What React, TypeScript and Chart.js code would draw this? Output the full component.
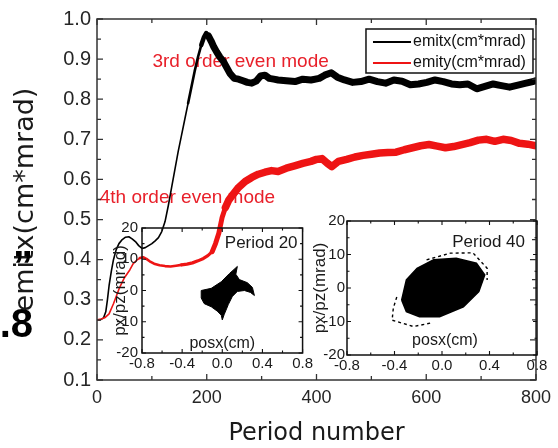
import React, { useEffect, useRef } from 'react';
import { Chart, registerables } from 'chart.js';
Chart.register(...registerables);

// ---- main chart data ----
const EMITX_X = [0, 6, 12, 16, 19, 22, 26, 30, 35, 40, 46, 52, 58, 64, 70, 76, 82, 88, 94, 100, 106, 112, 118, 124, 130, 136, 142, 148, 154, 160, 166, 172, 178, 184, 190, 195, 199, 203, 208, 213, 218, 224, 230, 236, 242, 250, 258, 266, 274, 282, 290, 298, 306, 314, 322, 330, 345, 361, 375, 390, 405, 415, 427, 438, 451, 466, 481, 496, 511, 526, 541, 556, 571, 586, 601, 616, 631, 646, 661, 676, 692, 707, 722, 737, 752, 767, 782, 794, 800];
const EMITX_Y = [0.25, 0.25, 0.255, 0.27, 0.30, 0.335, 0.37, 0.40, 0.425, 0.44, 0.45, 0.456, 0.457, 0.452, 0.445, 0.435, 0.428, 0.43, 0.435, 0.44, 0.447, 0.455, 0.47, 0.495, 0.535, 0.58, 0.625, 0.67, 0.71, 0.75, 0.79, 0.83, 0.87, 0.905, 0.935, 0.955, 0.965, 0.958, 0.945, 0.93, 0.918, 0.905, 0.895, 0.88, 0.865, 0.852, 0.85, 0.846, 0.842, 0.84, 0.845, 0.858, 0.86, 0.852, 0.85, 0.848, 0.846, 0.844, 0.85, 0.848, 0.852, 0.86, 0.866, 0.855, 0.848, 0.842, 0.844, 0.85, 0.844, 0.84, 0.848, 0.845, 0.836, 0.838, 0.842, 0.848, 0.844, 0.838, 0.836, 0.838, 0.826, 0.832, 0.838, 0.834, 0.83, 0.835, 0.84, 0.844, 0.846];
const EMITY_X = [0, 8, 15, 22, 30, 41, 50, 60, 66, 72, 78, 84, 90, 96, 104, 114, 124, 134, 144, 154, 164, 174, 184, 194, 202, 210, 216, 222, 228, 234, 240, 248, 258, 270, 282, 294, 306, 318, 330, 345, 360, 375, 390, 400, 410, 420, 428, 440, 455, 470, 485, 500, 515, 530, 545, 560, 575, 590, 605, 620, 635, 650, 665, 680, 695, 710, 725, 740, 755, 770, 785, 800];
const EMITY_Y = [0.25, 0.252, 0.256, 0.265, 0.29, 0.33, 0.355, 0.375, 0.39, 0.398, 0.404, 0.406, 0.402, 0.396, 0.39, 0.386, 0.384, 0.383, 0.385, 0.387, 0.389, 0.392, 0.397, 0.403, 0.41, 0.42, 0.44, 0.466, 0.505, 0.53, 0.548, 0.563, 0.58, 0.595, 0.605, 0.613, 0.618, 0.622, 0.62, 0.628, 0.634, 0.64, 0.645, 0.65, 0.652, 0.64, 0.632, 0.645, 0.65, 0.656, 0.66, 0.663, 0.666, 0.667, 0.668, 0.674, 0.679, 0.684, 0.687, 0.683, 0.679, 0.682, 0.687, 0.692, 0.698, 0.7, 0.695, 0.7, 0.697, 0.69, 0.688, 0.684];
const SERIES_NAMES = ['emitx(cm*mrad)', 'emity(cm*mrad)'];
const MAIN_X_MINOR = [100, 300, 500, 700];
const MAIN_Y_MINOR = [0.15, 0.25, 0.35, 0.45, 0.55, 0.65, 0.75, 0.85, 0.95];
const NOTES = ['3rd order even mode', '4th order even mode'];
const NOTE_X = [101, 5];
const NOTE_Y = [0.893, 0.554];

// ---- inset data (phase space) ----
const P20_X = [-0.21, -0.11, -0.01, 0.07, 0.15, 0.135, 0.17, 0.25, 0.30, 0.32, 0.28, 0.22, 0.15, 0.10, 0.06, 0.02, 0.0, -0.01, -0.05, -0.11, -0.18, -0.21, -0.21];
const P20_Y = [0.0, 0.7, 2.8, 5.4, 7.7, 5.2, 3.5, 2.5, 1.0, -1.6, -0.6, 0.0, -0.3, -1.9, -4.5, -7.6, -9.4, -7.9, -6.6, -5.2, -4.2, -2.4, 0.0];
const P40_X = [-0.34, -0.30, -0.21, -0.07, 0.12, 0.29, 0.36, 0.31, 0.18, -0.02, -0.19, -0.30, -0.34];
const P40_Y = [-3.6, 2.4, 5.9, 8.4, 8.9, 7.4, 3.9, -1.1, -5.6, -8.6, -8.6, -7.1, -3.6];
const HALO_X = [-0.10, -0.24, -0.42, -0.41, -0.38, 0, -0.13, 0.07, 0.26, 0.38, 0.38];
const HALO_Y = [-10.5, -11.5, -9.6, -6.0, -2.6, null, 8.4, 10.4, 10.5, 5.9, 2.4];
const INSET_X_MINOR = [-0.6, -0.2, 0.2, 0.6];
const INSET_Y_MINOR = [-15, -5, 5, 15];

const RED = '#ee1414';
const NOTE_RED = '#e8202a';
const SANS = '"Liberation Sans", Arial, sans-serif';
const WIDE = '"DejaVu Sans", sans-serif';

const pts = (xs: number[], ys: (number | null)[]) => xs.map((x, i) => ({ x, y: ys[i] }));
const blackW = (x: number) => (x < 165 ? 1.6 : x < 190 ? 2.6 : x < 203 ? 4.5 : 7);
const redW = (x: number) => (x < 78 ? 1.6 : x < 150 ? 2.6 : x < 205 ? 3.2 : x < 232 ? 5 : 7.5);

const framePlugin = {
  id: 'frame',
  afterDatasetsDraw(chart: any, _a: any, o: any) {
    const { ctx, chartArea: a, scales } = chart;
    const xs = scales.x, ys = scales.y;
    ctx.save();
    ctx.strokeStyle = o.color;
    ctx.lineWidth = o.width;
    ctx.strokeRect(a.left, a.top, a.right - a.left, a.bottom - a.top);
    ctx.lineWidth = o.tickWidth;
    const drawX = (v: number, len: number) => {
      const p = xs.getPixelForValue(v);
      ctx.beginPath();
      ctx.moveTo(p, a.bottom); ctx.lineTo(p, a.bottom - len);
      ctx.moveTo(p, a.top); ctx.lineTo(p, a.top + len);
      ctx.stroke();
    };
    const drawY = (v: number, len: number) => {
      const p = ys.getPixelForValue(v);
      ctx.beginPath();
      ctx.moveTo(a.left, p); ctx.lineTo(a.left + len, p);
      ctx.moveTo(a.right, p); ctx.lineTo(a.right - len, p);
      ctx.stroke();
    };
    xs.ticks.forEach((t: any) => drawX(t.value, o.major));
    (o.xMinor || []).forEach((v: number) => drawX(v, o.minor));
    ys.ticks.forEach((t: any) => drawY(t.value, o.major));
    (o.yMinor || []).forEach((v: number) => drawY(v, o.minor));
    ctx.restore();
  },
};

const notesPlugin = {
  id: 'notes',
  beforeDatasetsDraw(chart: any) {
    const { ctx, scales } = chart;
    ctx.save();
    ctx.fillStyle = NOTE_RED;
    ctx.font = `19px ${SANS}`;
    ctx.textAlign = 'left';
    ctx.textBaseline = 'middle';
    NOTES.forEach((t, i) => {
      ctx.fillText(t, scales.x.getPixelForValue(NOTE_X[i]), scales.y.getPixelForValue(NOTE_Y[i]));
    });
    ctx.restore();
  },
};

const legendPlugin = {
  id: 'boxLegend',
  afterDraw(chart: any) {
    const { ctx, chartArea: a } = chart;
    const x1 = a.right - 170, y1 = a.top + 10, w = 167, h = 44;
    ctx.save();
    ctx.fillStyle = '#fff';
    ctx.fillRect(x1, y1, w, h);
    ctx.strokeStyle = '#111';
    ctx.lineWidth = 1.5;
    ctx.strokeRect(x1, y1, w, h);
    const cols = ['#000', RED];
    [13, 34].forEach((dy, i) => {
      ctx.strokeStyle = cols[i];
      ctx.lineWidth = 2.2;
      ctx.beginPath();
      ctx.moveTo(x1 + 7, y1 + dy);
      ctx.lineTo(x1 + 45, y1 + dy);
      ctx.stroke();
      ctx.fillStyle = '#111';
      ctx.font = `16px ${SANS}`;
      ctx.textAlign = 'left';
      ctx.textBaseline = 'middle';
      ctx.fillText(SERIES_NAMES[i], x1 + 47, y1 + dy);
    });
    // stray bold glyphs at the left edge of the figure
    ctx.fillStyle = '#000';
    ctx.font = `bold 40px ${SANS}`;
    ctx.textAlign = 'left';
    ctx.textBaseline = 'alphabetic';
    ctx.fillText('\u201D', 13, 279);
    ctx.textAlign = 'right';
    ctx.fillText('.8', 33, 337);
    ctx.restore();
  },
};

const insetTextPlugin = {
  id: 'insetText',
  afterDraw(chart: any, _a: any, o: any) {
    const { ctx, chartArea: a } = chart;
    ctx.save();
    ctx.fillStyle = '#1a1a1a';
    ctx.textBaseline = 'middle';
    ctx.font = `17px ${SANS}`;
    ctx.textAlign = 'right';
    ctx.fillText(o.period, a.right - o.pdx, a.top + o.pdy);
    ctx.font = `16px ${SANS}`;
    ctx.textAlign = 'center';
    ctx.fillText('posx(cm)', (a.left + a.right) / 2 + o.xdx, a.bottom - o.xdy);
    ctx.translate(a.left - o.ydx, (a.top + a.bottom) / 2);
    ctx.rotate(-Math.PI / 2);
    ctx.font = `17px ${SANS}`;
    ctx.fillText('px/pz(mrad)', 0, 0);
    ctx.restore();
  },
};

function mainConfig(): any {
  return {
    type: 'line',
    data: {
      datasets: [
        {
          label: SERIES_NAMES[1], data: pts(EMITY_X, EMITY_Y), borderColor: RED, borderWidth: 2,
          pointRadius: 0, order: 0, borderJoinStyle: 'round', borderCapStyle: 'round',
          segment: { borderWidth: (c: any) => redW(c.p0.parsed.x) },
        },
        {
          label: SERIES_NAMES[0], data: pts(EMITX_X, EMITX_Y), borderColor: '#000', borderWidth: 2,
          pointRadius: 0, order: 1, borderJoinStyle: 'round', borderCapStyle: 'round',
          segment: { borderWidth: (c: any) => blackW(c.p0.parsed.x) },
        },
      ],
    },
    options: {
      responsive: false, animation: false, events: [],
      layout: { padding: { left: 0, top: 19, right: 18, bottom: 0 } },
      plugins: {
        legend: { display: false }, tooltip: { enabled: false },
        frame: { color: '#333', width: 1.5, tickWidth: 1.3, major: 6, minor: 4, xMinor: MAIN_X_MINOR, yMinor: MAIN_Y_MINOR },
      },
      scales: {
        x: {
          type: 'linear', min: 0, max: 800,
          ticks: { stepSize: 200, font: { family: SANS, size: 18 }, color: '#262626', padding: 7, maxRotation: 0 },
          grid: { display: false, drawTicks: false }, border: { display: false },
          title: { display: true, text: 'Period number', font: { family: WIDE, size: 24 }, color: '#1a1a1a', padding: { top: 0, bottom: 0 } },
          afterFit: (s: any) => { s.height = 68; },
        },
        y: {
          type: 'linear', min: 0.1, max: 1.0,
          ticks: { stepSize: 0.1, callback: (v: any) => Number(v).toFixed(1), font: { family: SANS, size: 20 }, color: '#262626', padding: 6 },
          grid: { display: false, drawTicks: false }, border: { display: false },
          title: { display: true, text: 'emitx(cm*mrad)', font: { family: WIDE, size: 27 }, color: '#1a1a1a', padding: { top: 10, bottom: 0 } },
          afterFit: (s: any) => { s.width = 97; },
        },
      },
    },
    plugins: [notesPlugin, framePlugin, legendPlugin],
  };
}

function insetConfig(datasets: any[], o: any): any {
  const tickFont = { family: SANS, size: 15 };
  return {
    type: 'scatter',
    data: { datasets },
    options: {
      responsive: false, animation: false, events: [],
      layout: { padding: { left: 0, top: o.padTop, right: o.padRight, bottom: 0 } },
      plugins: {
        legend: { display: false }, tooltip: { enabled: false },
        frame: { color: '#111', width: 1.5, tickWidth: 1.1, major: 4, minor: 2.5, xMinor: INSET_X_MINOR, yMinor: INSET_Y_MINOR },
        insetText: o.text,
      },
      scales: {
        x: {
          type: 'linear', min: -0.8, max: 0.8,
          ticks: { stepSize: 0.4, autoSkip: false, maxRotation: 0, callback: (v: any) => Number(v).toFixed(1), font: tickFont, color: '#1a1a1a', padding: 2 },
          grid: { display: false, drawTicks: false }, border: { display: false },
          afterFit: (s: any) => { s.height = o.xH; },
        },
        y: {
          type: 'linear', min: -20, max: 20,
          ticks: { stepSize: 10, autoSkip: false, font: tickFont, color: '#1a1a1a', padding: o.yPad },
          grid: { display: false, drawTicks: false }, border: { display: false },
          afterFit: (s: any) => { s.width = o.yW; },
        },
      },
    },
    plugins: [framePlugin, insetTextPlugin],
  };
}

export default function App() {
  const mainRef = useRef<HTMLCanvasElement>(null);
  const in1Ref = useRef<HTMLCanvasElement>(null);
  const in2Ref = useRef<HTMLCanvasElement>(null);

  useEffect(() => {
    const charts: Chart[] = [];
    charts.push(new Chart(mainRef.current as HTMLCanvasElement, mainConfig()));
    charts.push(new Chart(in1Ref.current as HTMLCanvasElement, insetConfig([
      { data: pts(P20_X, P20_Y), showLine: true, pointRadius: 0, borderColor: '#000', backgroundColor: '#000', borderWidth: 1, fill: 'shape' },
    ], { padTop: 10, padRight: 11, xH: 22, yW: 42, yPad: 4, text: { period: 'Period 20', pdx: 5, pdy: 15, xdx: 0, xdy: 9, ydx: 22 } })));
    charts.push(new Chart(in2Ref.current as HTMLCanvasElement, insetConfig([
      { data: pts(P40_X, P40_Y), showLine: true, pointRadius: 0, borderColor: '#000', backgroundColor: '#000', borderWidth: 1.5, fill: 'shape' },
      { data: pts(HALO_X, HALO_Y), showLine: true, pointRadius: 0, borderColor: '#000', borderWidth: 1.4, borderDash: [3, 3], fill: false, spanGaps: false },
    ], { padTop: 11, padRight: 13, xH: 25, yW: 47, yPad: 2, text: { period: 'Period 40', pdx: 12, pdy: 21, xdx: 3, xdy: 14, ydx: 27 } })));
    return () => charts.forEach((c) => c.destroy());
  }, []);

  return (
    <div style={{ position: 'absolute', left: 0, top: 0, width: 558, height: 448, background: '#fff' }}>
      <canvas ref={mainRef} width={558} height={448} style={{ position: 'absolute', left: 0, top: 0, width: 558, height: 448 }} />
      <canvas ref={in1Ref} width={215} height={160} style={{ position: 'absolute', left: 100, top: 215, width: 215, height: 160 }} />
      <canvas ref={in2Ref} width={250} height={170} style={{ position: 'absolute', left: 300, top: 210, width: 250, height: 170 }} />
    </div>
  );
}
